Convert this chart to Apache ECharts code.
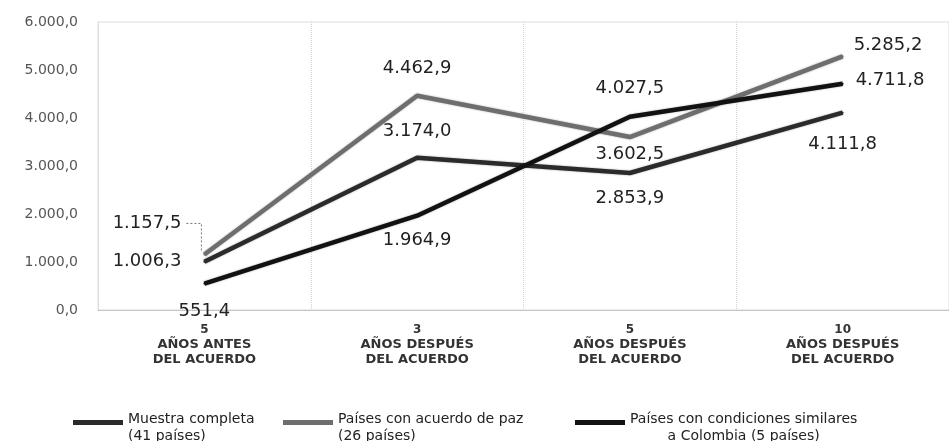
<!DOCTYPE html>
<html>
<head>
<meta charset="utf-8">
<script src="https://cdn.jsdelivr.net/npm/echarts@6/dist/echarts.min.js"></script>
<style>
html,body{margin:0;padding:0;background:#fff;}
#chart{width:949px;height:441px;}
</style>
</head>
<body>
<div id="chart"></div>
<script>
// ---- data ----
const categories = [
  ['5', 'AÑOS ANTES', 'DEL ACUERDO'],
  ['3', 'AÑOS DESPUÉS', 'DEL ACUERDO'],
  ['5', 'AÑOS DESPUÉS', 'DEL ACUERDO'],
  ['10', 'AÑOS DESPUÉS', 'DEL ACUERDO']
];
const seriesNames = [
  'Muestra completa\n(41 países)',
  'Países con acuerdo de paz\n(26 países)',
  'Países con condiciones similares\na Colombia (5 países)'
];
const muestraCompleta = [1006.3, 3174.0, 2853.9, 4111.8];
const acuerdoPaz = [1157.5, 4462.9, 3602.5, 5285.2];
const similaresColombia = [551.4, 1964.9, 4027.5, 4711.8];
const yTicks = [0, 1000, 2000, 3000, 4000, 5000, 6000];

// ---- styling / placement (not data) ----
const colors = ['#2b2b2b', '#6e6e6e', '#121212'];
const labelPlacement = [
  [{position:'left', distance:22}, {position:'top', distance:16}, {position:'bottom', distance:15}, {position:'bottom', distance:22}],
  [{position:'left', distance:22, offset:[0,-31]}, {position:'top', distance:17}, {position:'bottom', distance:7}, {position:'right', distance:10, offset:[0,-11]}],
  [{position:'bottom', distance:18}, {position:'bottom', distance:15}, {position:'top', distance:18}, {position:'right', distance:12, offset:[0,-4]}]
];

function fmt(v) {
  const s = Number(v).toFixed(1);
  const parts = s.split('.');
  return parts[0].replace(/\B(?=(\d{3})+(?!\d))/g, '.') + ',' + parts[1];
}

const FONT = 'DejaVu Sans';
const chart = echarts.init(document.getElementById('chart'), null, {renderer: 'canvas'});

function buildData(values, sIdx) {
  return values.map((v, i) => {
    const p = labelPlacement[sIdx][i];
    const item = {value: v, label: {position: p.position, distance: p.distance}};
    if (p.offset) item.label.offset = p.offset;
    return item;
  });
}

const allValues = [muestraCompleta, acuerdoPaz, similaresColombia];

const series = allValues.map((vals, s) => ({
  name: seriesNames[s],
  type: 'line',
  data: buildData(vals, s),
  symbol: 'circle',
  symbolSize: 2,
  showSymbol: true,
  itemStyle: {color: colors[s]},
  lineStyle: {color: colors[s], width: 4.5, shadowColor: 'rgba(0,0,0,0.35)', shadowBlur: 2},
  emphasis: {disabled: true},
  z: [2, 3, 4][s],
  label: {
    show: true,
    formatter: p => fmt(p.value),
    fontFamily: FONT,
    fontSize: 18,
    color: '#222'
  }
}));

const option = {
  backgroundColor: '#ffffff',
  animation: false,
  grid: {
    left: 98, top: 22, width: 857, bottom: 131,
    show: true, borderColor: '#dddddd', borderWidth: 1, containLabel: false
  },
  xAxis: {
    type: 'category',
    data: categories.map(c => c.join('\n')),
    boundaryGap: true,
    axisLine: {show: true, lineStyle: {color: '#bdbdbd', type: 'dotted'}},
    axisTick: {show: false},
    splitLine: {show: true, lineStyle: {color: '#d0d0d0', type: 'dotted'}},
    axisLabel: {
      interval: 0,
      margin: 12,
      formatter: function (v) {
        const parts = v.split('\n');
        return '{n|' + parts[0] + '}\n{t|' + parts[1] + '}\n{t|' + parts[2] + '}';
      },
      rich: {
        n: {fontFamily: FONT, fontWeight: 'bold', fontSize: 12, color: '#333', lineHeight: 15},
        t: {fontFamily: FONT, fontWeight: 'bold', fontSize: 13, color: '#333', lineHeight: 15}
      }
    }
  },
  yAxis: {
    type: 'value',
    min: yTicks[0],
    max: yTicks[yTicks.length - 1],
    interval: 1000,
    axisLine: {show: false},
    axisTick: {show: false},
    splitLine: {show: false},
    axisLabel: {
      margin: 20,
      formatter: v => fmt(v),
      fontFamily: FONT,
      fontSize: 14,
      color: '#555'
    }
  },
  legend: {
    left: 68,
    top: 406,
    itemGap: 0,
    itemWidth: 50,
    itemHeight: 17,
    icon: 'path://M0,0H50V5H0Z M0,16H50V16.01H0Z',
    data: [
      {name: seriesNames[0], textStyle: {width: 155}},
      {name: seriesNames[1], textStyle: {width: 237}},
      {name: seriesNames[2]}
    ],
    formatter: function (name) {
      const parts = name.split('\n');
      if (name === seriesNames[2]) {
        return '{a|' + parts[0] + '}\n{c|' + parts[1] + '}';
      }
      return '{a|' + parts[0] + '}\n{a|' + parts[1] + '}';
    },
    textStyle: {
      fontFamily: FONT,
      fontSize: 14,
      color: '#222',
      lineHeight: 17,
      rich: {
        a: {fontFamily: FONT, fontSize: 14, color: '#222', lineHeight: 17},
        c: {fontFamily: FONT, fontSize: 14, color: '#222', lineHeight: 17, align: 'center'}
      }
    }
  },
  series: series
};

chart.setOption(option);

// leader line for the offset label of the first "acuerdo de paz" point, positioned via the chart's own scales
const pt = chart.convertToPixel({seriesIndex: 1}, [0, acuerdoPaz[0]]);
if (pt) {
  const ly = pt[1] - 31;
  chart.setOption({
    graphic: [{
      type: 'polyline',
      silent: true,
      z: 1,
      shape: {points: [[pt[0] - 18, ly], [pt[0] - 3, ly], [pt[0] - 3, pt[1] - 4]]},
      style: {stroke: '#777', lineWidth: 1, lineDash: [2, 2], fill: null}
    }]
  });
}
</script>
</body>
</html>
